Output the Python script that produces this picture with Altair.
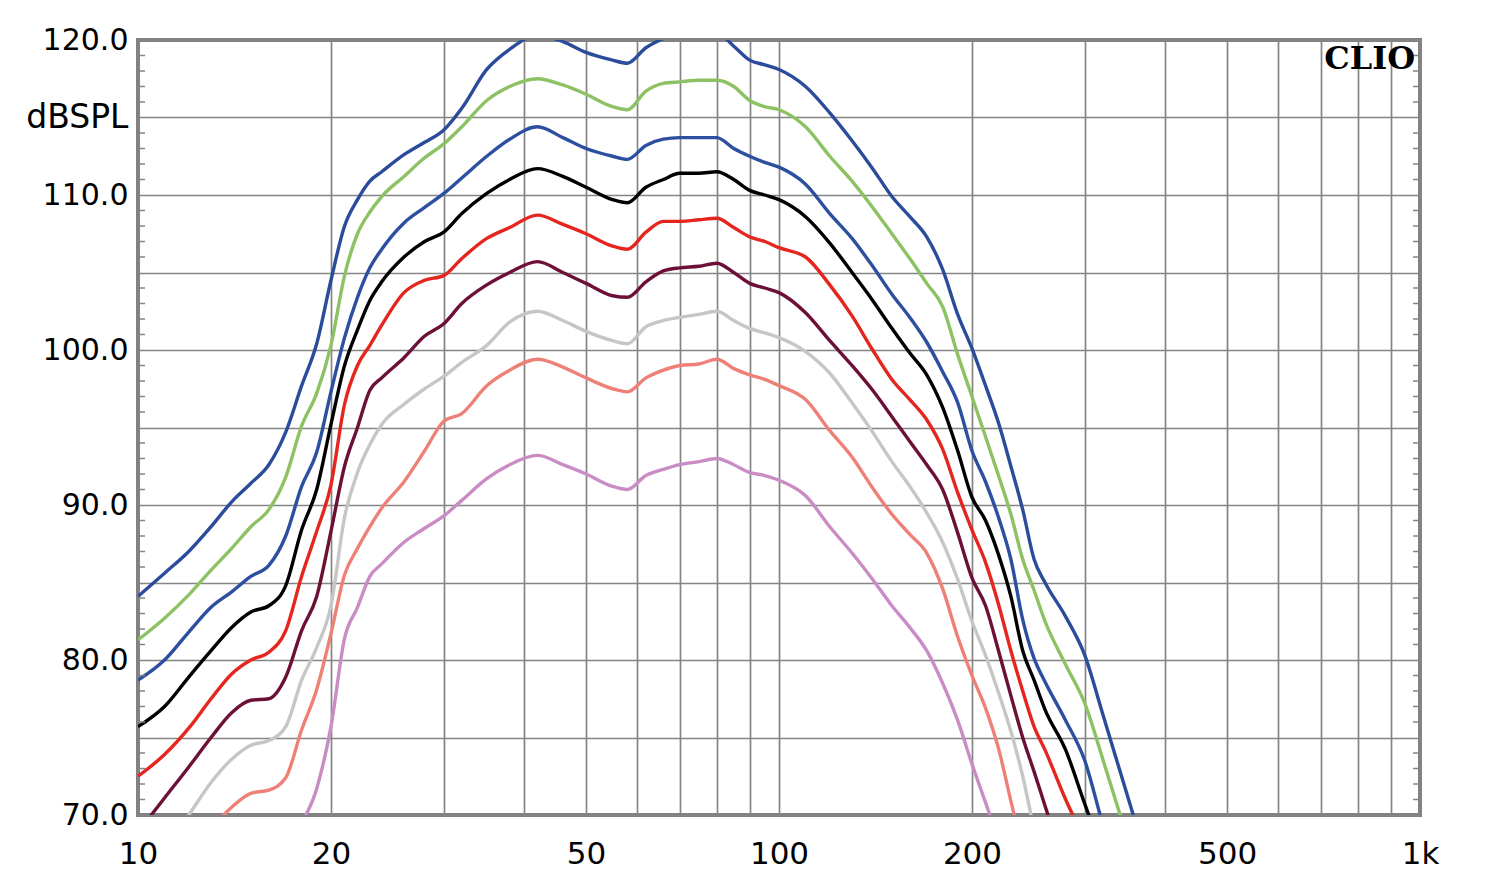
import altair as alt
import pandas as pd

# Frequencies (Hz) at which curves were read
FREQ = [10, 11, 12, 13, 14, 15, 16, 17, 18, 19, 20, 21, 22, 23, 24,
        26, 28, 30, 32, 35, 38, 42, 46, 50, 55, 58, 62, 66, 70, 75, 80, 85, 90, 95, 100,
        110, 120, 130, 140, 150, 160, 170, 180, 190, 200, 210, 220, 230, 240, 250, 260,
        280, 300, 320, 340, 360]

L1 = [84.1, 85.6, 87.0, 88.6, 90.2, 91.4, 92.6, 94.7, 97.7, 100.4, 104.5, 108.0, 109.7, 110.9, 111.5,
      112.6, 113.4, 114.2, 115.6, 118.1, 119.4, 120.3, 119.9, 119.2, 118.7, 118.5, 119.5, 120.1, 120.5, 120.6, 120.5, 119.6, 118.7, 118.4, 118.1,
      117.0, 115.3, 113.5, 111.7, 109.9, 108.6, 107.3, 105.2, 102.3, 100.1, 97.7, 95.3, 92.5, 89.7, 86.5, 85.0,
      82.8, 80.3, 76.5, 72.9, 69.5]
L2 = [81.3, 82.7, 84.2, 85.8, 87.2, 88.6, 89.7, 91.8, 95.1, 97.2, 100.3, 104.8, 107.5, 108.9, 109.9,
      111.2, 112.4, 113.3, 114.4, 116.1, 117.0, 117.5, 117.1, 116.5, 115.7, 115.5, 116.7, 117.2, 117.3, 117.4, 117.4, 117.0, 116.1, 115.7, 115.5,
      114.4, 112.5, 110.9, 109.2, 107.5, 105.9, 104.3, 102.8, 99.7, 97.0, 94.4, 91.9, 89.4, 86.5, 84.5, 82.5,
      79.7, 77.2, 73.6, 70.1, 67.0]
L3 = [78.7, 80.0, 81.8, 83.4, 84.4, 85.4, 86.1, 88.0, 91.2, 93.4, 97.3, 100.8, 103.4, 105.3, 106.5,
      108.2, 109.2, 110.1, 111.1, 112.5, 113.6, 114.4, 113.7, 113.0, 112.5, 112.3, 113.2, 113.6, 113.7, 113.7, 113.7, 113.0, 112.5, 112.1, 111.8,
      110.7, 108.8, 107.2, 105.4, 103.6, 102.1, 100.5, 98.6, 96.6, 93.5, 91.5, 89.2, 86.5, 82.6, 80.1, 78.6,
      76.1, 73.5, 69.4, 66.0, None]
L4 = [75.7, 77.0, 78.9, 80.6, 82.1, 83.1, 83.5, 84.8, 88.4, 91.0, 95.2, 99.0, 101.3, 103.2, 104.4,
      106.0, 107.0, 107.6, 108.8, 110.1, 111.0, 111.7, 111.2, 110.5, 109.7, 109.5, 110.5, 111.0, 111.4, 111.4, 111.5, 111.0, 110.3, 110.0, 109.7,
      108.6, 106.9, 105.0, 103.2, 101.4, 99.8, 98.4, 96.3, 93.5, 90.5, 89.0, 86.8, 84.1, 80.6, 78.7, 76.8,
      74.2, 70.7, 67.5, None, None]
L5 = [72.5, 73.9, 75.6, 77.5, 79.1, 80.0, 80.5, 81.9, 85.4, 88.3, 91.3, 96.5, 99.0, 100.3, 101.6,
      103.7, 104.5, 104.8, 105.9, 107.2, 107.9, 108.7, 108.1, 107.5, 106.7, 106.5, 107.6, 108.3, 108.3, 108.4, 108.5, 107.9, 107.3, 107.0, 106.6,
      106.0, 104.2, 102.2, 100.0, 98.1, 96.8, 95.5, 93.6, 90.8, 88.4, 86.3, 83.6, 80.6, 78.0, 75.7, 74.2,
      71.0, 68.4, None, None, None]
L6 = [68.9, 71.1, 73.1, 75.0, 76.6, 77.4, 77.5, 78.9, 81.9, 84.1, 88.3, 92.5, 95.0, 97.4, 98.2,
      99.5, 100.9, 101.7, 103.0, 104.2, 105.0, 105.7, 105.0, 104.3, 103.5, 103.4, 104.4, 105.1, 105.3, 105.4, 105.6, 105.0, 104.3, 104.0, 103.7,
      102.4, 100.6, 99.0, 97.4, 95.7, 94.1, 92.6, 91.0, 88.2, 85.3, 83.5, 80.6, 77.7, 75.0, 72.8, 70.6,
      66.5, None, None, None, None]
L7 = [65.5, 67.8, 70.0, 72.1, 73.6, 74.5, 74.8, 75.7, 78.7, 80.8, 83.5, 89.2, 92.1, 93.9, 95.2,
      96.5, 97.5, 98.3, 99.2, 100.3, 101.8, 102.5, 101.9, 101.2, 100.6, 100.4, 101.5, 101.9, 102.1, 102.3, 102.5, 101.9, 101.4, 101.1, 100.8,
      99.9, 98.5, 96.6, 94.7, 92.8, 91.2, 89.5, 87.6, 85.2, 82.5, 80.3, 77.9, 75.4, 72.5, 69.0, None,
      None, None, None, None, None]
L8 = [None, None, 67.4, 69.1, 70.5, 71.4, 71.6, 72.4, 75.5, 78.1, 81.7, 85.5, 87.2, 88.6, 89.8,
      91.5, 93.5, 95.4, 95.9, 97.7, 98.7, 99.4, 98.9, 98.2, 97.5, 97.3, 98.2, 98.7, 99.0, 99.1, 99.4, 98.8, 98.4, 98.1, 97.7,
      96.8, 94.8, 93.1, 91.1, 89.4, 88.1, 86.9, 84.6, 81.5, 79.0, 76.9, 74.3, 70.9, 67.7, None, None,
      None, None, None, None, None]
L9 = [None, None, None, None, None, None, None, 66.0, 69.3, 71.7, 75.7, 81.4, 83.4, 85.4, 86.2,
      87.6, 88.5, 89.3, 90.3, 91.7, 92.6, 93.2, 92.6, 92.0, 91.2, 91.0, 91.9, 92.3, 92.6, 92.8, 93.0, 92.6, 92.1, 91.9, 91.6,
      90.6, 88.6, 86.9, 85.2, 83.5, 82.1, 80.6, 78.5, 76.1, 73.3, 70.8, 68.4, None, None, None, None,
      None, None, None, None, None]

SERIES = ["c1", "c2", "c3", "c4", "c5", "c6", "c7", "c8", "c9"]
COLORS = ["#2b4c9b", "#8cc264", "#2d4fa0", "#000000", "#e4261f",
          "#6d1038", "#c6c6c6", "#ef8078", "#c98cc5"]
CURVES = [L1, L2, L3, L4, L5, L6, L7, L8, L9]

X_GRID = [10, 20, 30, 40, 50, 60, 70, 80, 90, 100, 200, 300, 400, 500, 600, 700, 800, 900, 1000]
Y_GRID = [70, 75, 80, 85, 90, 95, 100, 105, 110, 115, 120]
MINOR_TICKS = [v for v in range(71, 120) if v % 5 != 0]
BRAND = "CLIO"
Y_TITLE = "dBSPL"

rows = []
for name, vals in zip(SERIES, CURVES):
    assert len(vals) == len(FREQ), name
    for f, v in zip(FREQ, vals):
        if v is not None:
            rows.append({"f": f, "db": v, "s": name})
df = pd.DataFrame(rows)

W, H = 1282, 775
GRID_C = "#858585"
FONT = "DejaVu Sans"

xscale = alt.Scale(type="log", domain=[10, 1000], nice=False)
yscale = alt.Scale(domain=[70, 120], nice=False, zero=False)

x_label_expr = ("datum.value == 1000 ? '1k' : ((datum.value == 10 || datum.value == 20 || "
                "datum.value == 50 || datum.value == 100 || datum.value == 200 || "
                "datum.value == 500) ? format(datum.value, 'd') : '')")
y_label_expr = "datum.value % 10 == 0 ? format(datum.value, '.1f') : ''"

x_axis = alt.Axis(values=X_GRID, labelExpr=x_label_expr, grid=True,
                  gridColor=GRID_C, gridWidth=1.7, gridOpacity=1,
                  ticks=False, domain=False, labelFont=FONT, labelFontSize=31,
                  labelPadding=24, labelColor="black", labelFlush=False,
                  labelOverlap=False, labelBound=False, title=None)
y_axis = alt.Axis(values=Y_GRID, labelExpr=y_label_expr, grid=True,
                  gridColor=GRID_C, gridWidth=1.7, gridOpacity=1,
                  ticks=False, domain=False, labelFont=FONT, labelFontSize=30,
                  labelPadding=10, labelColor="black", labelFlush=False,
                  labelOverlap=False, labelBound=False, labelBaseline="middle",
                  title=Y_TITLE, titleAngle=0, titleX=-10, titleY=77,
                  titleAlign="right", titleBaseline="middle",
                  titleFont=FONT, titleFontSize=33, titleFontWeight="normal",
                  titleColor="black")

lines = alt.Chart(df).mark_line(clip=True, strokeWidth=3.4, interpolate="monotone").encode(
    x=alt.X("f:Q", scale=xscale, axis=x_axis),
    y=alt.Y("db:Q", scale=yscale, axis=y_axis),
    color=alt.Color("s:N", scale=alt.Scale(domain=SERIES, range=COLORS), legend=None),
)

ticks_df = pd.DataFrame({"db": MINOR_TICKS})
left_ticks = alt.Chart(ticks_df).mark_rule(color=GRID_C, strokeWidth=1.5).encode(
    y=alt.Y("db:Q", scale=yscale, axis=y_axis), x=alt.value(0), x2=alt.value(7))
right_ticks = alt.Chart(ticks_df).mark_rule(color=GRID_C, strokeWidth=1.5).encode(
    y=alt.Y("db:Q", scale=yscale, axis=y_axis), x=alt.value(W - 7), x2=alt.value(W))

clio = alt.Chart(pd.DataFrame({"t": [BRAND]})).mark_text(
    font="DejaVu Serif", fontWeight="bold", fontSize=32, align="right",
    baseline="alphabetic", color="black").encode(
    text="t:N", x=alt.value(W - 5), y=alt.value(29))

chart = alt.layer(lines, left_ticks, right_ticks, clio).properties(
    width=W, height=H,
    padding={"left": 130, "top": 32, "right": 72, "bottom": 70},
    autosize=alt.AutoSizeParams(type="none"),
    background="white",
).configure_view(stroke="#808080", strokeWidth=4)

chart.save("out.html", embed_options={"renderer": "svg", "actions": False})
